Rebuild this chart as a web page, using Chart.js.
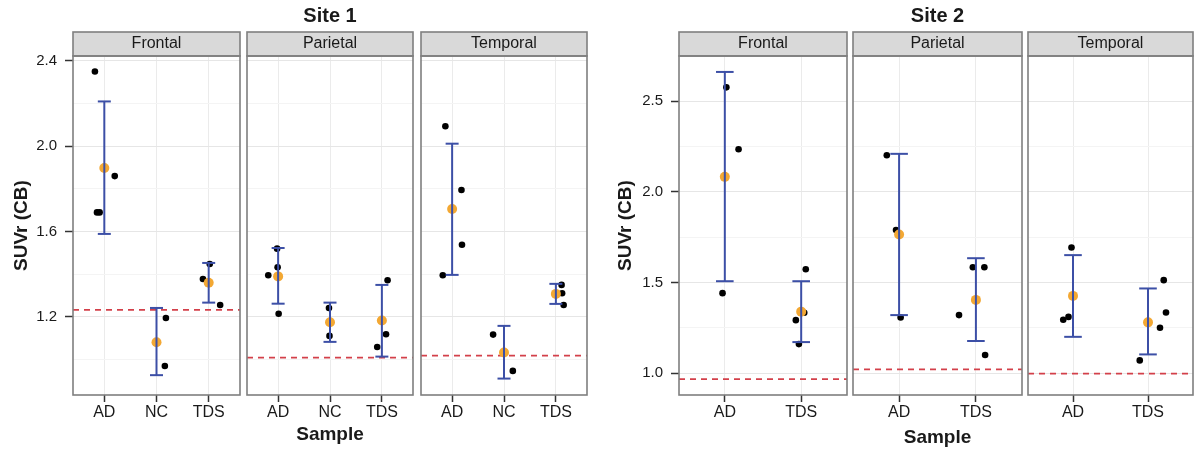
<!DOCTYPE html>
<html>
<head>
<meta charset="utf-8">
<script src="https://cdn.jsdelivr.net/npm/chart.js@4.4.0/dist/chart.umd.min.js"></script>
<style>
  html, body { margin: 0; padding: 0; background: #fff; }
  body { width: 1195px; height: 449px; position: relative; overflow: hidden; }
  canvas { position: absolute; top: 0; }
</style>
</head>
<body>
<canvas id="s1Frontal"></canvas>
<canvas id="s1Parietal"></canvas>
<canvas id="s1Temporal"></canvas>
<canvas id="s2Frontal"></canvas>
<canvas id="s2Parietal"></canvas>
<canvas id="s2Temporal"></canvas>
<script>
// Site 1 axes
const site1Samples = ['AD', 'NC', 'TDS'];
const site1MajorTicks = [1.2, 1.6, 2.0, 2.4];
const site1MinorTicks = [1.0, 1.4, 1.8, 2.2];
const site1YRange = [0.834, 2.423];

// Site 2 axes
const site2Samples = ['AD', 'TDS'];
const site2MajorTicks = [1.0, 1.5, 2.0, 2.5];
const site2MinorTicks = [1.25, 1.75, 2.25];
const site2YRange = [0.879, 2.75];

// Site 1 - Frontal: individual points [jittered x, SUVr], mean, error bar ends, reference line
const s1FrontalPts = [[0.82, 2.35], [0.86, 1.69], [0.91, 1.69], [1.20, 1.86], [2.18, 1.195], [2.16, 0.97], [2.89, 1.378], [3.02, 1.448], [3.22, 1.256]];
const s1FrontalMean = [1.898, 1.081, 1.36];
const s1FrontalLow = [1.589, 0.927, 1.267];
const s1FrontalHigh = [2.21, 1.242, 1.453];
const s1FrontalRef = 1.233;

// Site 1 - Parietal
const s1ParietalPts = [[0.81, 1.395], [0.99, 1.433], [1.01, 1.215], [0.98, 1.52], [1.98, 1.242], [1.99, 1.111], [3.11, 1.372], [3.08, 1.119], [2.91, 1.059]];
const s1ParietalMean = [1.39, 1.175, 1.183];
const s1ParietalLow = [1.262, 1.083, 1.014];
const s1ParietalHigh = [1.523, 1.267, 1.35];
const s1ParietalRef = 1.009;

// Site 1 - Temporal
const s1TemporalPts = [[0.87, 2.094], [1.18, 1.795], [1.19, 1.538], [0.82, 1.395], [1.79, 1.117], [2.17, 0.947], [3.11, 1.35], [3.12, 1.311], [3.15, 1.256]];
const s1TemporalMean = [1.706, 1.033, 1.308];
const s1TemporalLow = [1.397, 0.911, 1.261];
const s1TemporalHigh = [2.012, 1.158, 1.355];
const s1TemporalRef = 1.019;

// Site 2 - Frontal
const s2FrontalPts = [[1.02, 2.577], [1.18, 2.235], [0.97, 1.441], [2.06, 1.573], [1.93, 1.292], [1.97, 1.16], [2.04, 1.333]];
const s2FrontalMean = [2.083, 1.339];
const s2FrontalLow = [1.507, 1.171];
const s2FrontalHigh = [2.662, 1.507];
const s2FrontalRef = 0.967;

// Site 2 - Parietal
const s2ParietalPts = [[0.84, 2.202], [0.96, 1.789], [1.02, 1.307], [1.96, 1.584], [2.11, 1.584], [1.78, 1.32], [2.12, 1.1]];
const s2ParietalMean = [1.765, 1.404];
const s2ParietalLow = [1.32, 1.177];
const s2ParietalHigh = [2.21, 1.634];
const s2ParietalRef = 1.02;

// Site 2 - Temporal
const s2TemporalPts = [[0.98, 1.693], [0.87, 1.294], [0.94, 1.31], [2.21, 1.513], [2.24, 1.334], [2.16, 1.25], [1.89, 1.07]];
const s2TemporalMean = [1.426, 1.28];
const s2TemporalLow = [1.2, 1.103];
const s2TemporalHigh = [1.651, 1.467];
const s2TemporalRef = 0.997;

Chart.defaults.font.family = '"Liberation Sans", Arial, Helvetica, sans-serif';
Chart.defaults.color = '#1a1a1a';

const STRIP_H = 24;

// Draws the gray facet strip behind the subtitle and the panel frame
const facetFrame = {
    id: 'facetFrame',
    beforeDraw(chart) {
        const a = chart.chartArea;
        const ctx = chart.ctx;
        ctx.save();
        ctx.fillStyle = '#d9d9d9';
        ctx.fillRect(a.left, a.top - STRIP_H, a.right - a.left, STRIP_H);
        ctx.restore();
    },
    afterDraw(chart) {
        const a = chart.chartArea;
        const ctx = chart.ctx;
        ctx.save();
        ctx.strokeStyle = '#7f7f7f';
        ctx.lineWidth = 1.6;
        ctx.strokeRect(a.left, a.top - STRIP_H, a.right - a.left, STRIP_H);
        ctx.strokeRect(a.left, a.top, a.right - a.left, a.bottom - a.top);
        ctx.restore();
    }
};

function makePanel(id, p) {
    const canvas = document.getElementById(id);
    canvas.width = p.width;
    canvas.height = 449;
    canvas.style.left = p.left + 'px';

    const n = p.samples.length;
    const allTicks = p.major.concat(p.minor).sort((a, b) => a - b);
    let datasets = [];

    // Error bars (mean +/- sd) with caps
    for (let i = 0; i < n; i++) {
        datasets.push({
            type: 'line',
            showLine: true,
            data: [{ x: i + 1, y: p.low[i] }, { x: i + 1, y: p.high[i] }],
            borderColor: '#3c4fa6',
            borderWidth: 2,
            pointStyle: 'line',
            pointRadius: p.cap,
            pointBorderWidth: 2,
            pointBorderColor: '#3c4fa6',
            order: 0
        });
    }
    // Means
    datasets.push({
        type: 'scatter',
        data: p.mean.map((m, i) => ({ x: i + 1, y: m })),
        pointRadius: 5,
        pointBackgroundColor: '#f3a833',
        pointBorderWidth: 0,
        order: 1
    });
    // Individual subjects
    datasets.push({
        type: 'scatter',
        data: p.pts.map(d => ({ x: d[0], y: d[1] })),
        pointRadius: 3.3,
        pointBackgroundColor: '#000',
        pointBorderWidth: 0,
        order: 2
    });
    // Reference line
    datasets.push({
        type: 'line',
        showLine: true,
        data: [{ x: 0.4, y: p.ref }, { x: n + 0.6, y: p.ref }],
        borderColor: '#d3404a',
        borderWidth: 1.8,
        borderDash: [6, 5],
        pointRadius: 0,
        order: 3
    });

    return new Chart(canvas, {
        type: 'scatter',
        data: { datasets: datasets },
        plugins: [facetFrame],
        options: {
            responsive: false,
            animation: false,
            events: [],
            layout: { autoPadding: false, padding: { left: p.padLeft, right: 2, top: 0, bottom: 0 } },
            plugins: {
                legend: { display: false },
                tooltip: { enabled: false },
                title: {
                    display: true,
                    text: p.siteTitle,
                    fullSize: false,
                    color: '#1a1a1a',
                    font: { size: 20, weight: 'bold', lineHeight: 1.2 },
                    padding: { top: 4, bottom: 4 }
                },
                subtitle: {
                    display: true,
                    text: p.region,
                    fullSize: false,
                    color: '#1a1a1a',
                    font: { size: 16, lineHeight: 1.2 },
                    padding: { top: 2.4, bottom: 2.4 }
                }
            },
            scales: {
                x: {
                    type: 'linear',
                    min: 0.4,
                    max: n + 0.6,
                    afterBuildTicks: axis => { axis.ticks = p.samples.map((s, i) => ({ value: i + 1 })); },
                    afterFit: axis => { axis.height = 54; },
                    border: { display: false },
                    grid: { color: '#ebebeb', lineWidth: 1, drawTicks: true, tickLength: 7, tickColor: '#333', tickWidth: 1.5 },
                    ticks: {
                        autoSkip: false,
                        maxRotation: 0,
                        padding: 1,
                        color: '#1a1a1a',
                        font: { size: 16 },
                        callback: (v, i) => p.samples[i]
                    },
                    title: {
                        display: p.xTitle,
                        text: 'Sample',
                        color: '#1a1a1a',
                        font: { size: 19, weight: 'bold', lineHeight: 1.2 },
                        padding: { top: 0, bottom: p.xTitlePad }
                    }
                },
                y: {
                    type: 'linear',
                    min: p.yRange[0],
                    max: p.yRange[1],
                    afterBuildTicks: axis => { axis.ticks = allTicks.map(v => ({ value: v })); },
                    afterFit: axis => { axis.width = p.yWidth; },
                    border: { display: false },
                    grid: {
                        lineWidth: 1,
                        color: c => p.major.includes(c.tick.value) ? '#e6e6e6' : '#f4f4f4',
                        drawTicks: p.yWidth > 0,
                        tickLength: 8,
                        tickWidth: 1.5,
                        tickColor: c => p.major.includes(c.tick.value) ? '#333' : 'rgba(0,0,0,0)'
                    },
                    ticks: {
                        display: p.yWidth > 0,
                        autoSkip: false,
                        padding: 8,
                        color: '#1a1a1a',
                        font: { size: 15 },
                        callback: v => p.major.includes(v) ? v.toFixed(1) : ''
                    },
                    title: {
                        display: p.yWidth > 0,
                        text: 'SUVr (CB)',
                        color: '#1a1a1a',
                        font: { size: 19, weight: 'bold', lineHeight: 1.2 },
                        padding: { top: p.yTitlePad, bottom: 0 }
                    }
                }
            }
        }
    });
}

const site1Base = { samples: site1Samples, major: site1MajorTicks, minor: site1MinorTicks, yRange: site1YRange, cap: 6.5, xTitlePad: 3 };
const site2Base = { samples: site2Samples, major: site2MajorTicks, minor: site2MinorTicks, yRange: site2YRange, cap: 8.8, xTitlePad: 0 };

makePanel('s1Frontal', Object.assign({}, site1Base, {
    left: 0, width: 242, padLeft: 0, yWidth: 73, yTitlePad: 10, siteTitle: '', region: 'Frontal', xTitle: false,
    pts: s1FrontalPts, mean: s1FrontalMean, low: s1FrontalLow, high: s1FrontalHigh, ref: s1FrontalRef
}));
makePanel('s1Parietal', Object.assign({}, site1Base, {
    left: 245, width: 170, padLeft: 2, yWidth: 0, yTitlePad: 0, siteTitle: 'Site 1', region: 'Parietal', xTitle: true,
    pts: s1ParietalPts, mean: s1ParietalMean, low: s1ParietalLow, high: s1ParietalHigh, ref: s1ParietalRef
}));
makePanel('s1Temporal', Object.assign({}, site1Base, {
    left: 419, width: 170, padLeft: 2, yWidth: 0, yTitlePad: 0, siteTitle: '', region: 'Temporal', xTitle: false,
    pts: s1TemporalPts, mean: s1TemporalMean, low: s1TemporalLow, high: s1TemporalHigh, ref: s1TemporalRef
}));
makePanel('s2Frontal', Object.assign({}, site2Base, {
    left: 605, width: 244, padLeft: 0, yWidth: 74, yTitlePad: 9, siteTitle: '', region: 'Frontal', xTitle: false,
    pts: s2FrontalPts, mean: s2FrontalMean, low: s2FrontalLow, high: s2FrontalHigh, ref: s2FrontalRef
}));
makePanel('s2Parietal', Object.assign({}, site2Base, {
    left: 851, width: 173, padLeft: 2, yWidth: 0, yTitlePad: 0, siteTitle: 'Site 2', region: 'Parietal', xTitle: true,
    pts: s2ParietalPts, mean: s2ParietalMean, low: s2ParietalLow, high: s2ParietalHigh, ref: s2ParietalRef
}));
makePanel('s2Temporal', Object.assign({}, site2Base, {
    left: 1026, width: 169, padLeft: 2, yWidth: 0, yTitlePad: 0, siteTitle: '', region: 'Temporal', xTitle: false,
    pts: s2TemporalPts, mean: s2TemporalMean, low: s2TemporalLow, high: s2TemporalHigh, ref: s2TemporalRef
}));
</script>
</body>
</html>
